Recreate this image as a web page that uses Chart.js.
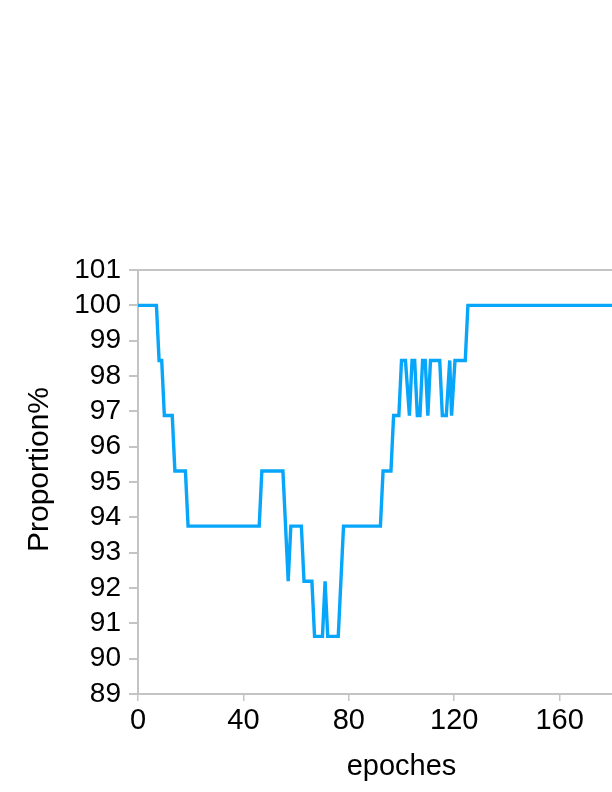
<!DOCTYPE html>
<html>
<head>
<meta charset="utf-8">
<script src="https://cdn.jsdelivr.net/npm/chart.js@4"></script>
<style>
  html, body { margin: 0; padding: 0; background: #fff; overflow: hidden; }
  #wrap { width: 612px; height: 792px; overflow: hidden; }
</style>
</head>
<body>
<div id="wrap"><canvas id="myChart" width="705" height="792"></canvas></div>
<script>
// vertices of the step curve
const epochs = [0, 7, 8, 9, 10, 13, 14, 18, 19, 46, 47, 55, 57, 58, 62, 63, 66, 67, 70, 71, 72, 76, 78, 92, 93, 96, 97, 99, 100, 101.5, 103, 104, 105, 106, 107, 108, 109, 110, 111, 114.5, 115.5, 117, 118.3, 119, 120.3, 124.2, 125.2, 200];
const proportion = [100, 100, 98.44, 98.44, 96.88, 96.88, 95.31, 95.31, 93.75, 93.75, 95.31, 95.31, 92.19, 93.75, 93.75, 92.19, 92.19, 90.63, 90.63, 92.19, 90.63, 90.63, 93.75, 93.75, 95.31, 95.31, 96.88, 96.88, 98.44, 98.44, 96.88, 98.44, 98.44, 96.88, 96.88, 98.44, 98.44, 96.88, 98.44, 98.44, 96.88, 96.88, 98.44, 96.88, 98.44, 98.44, 100, 100];

const xMin = 0, xMax = 200, xMajor = 40, xMinor = 20;
const yMin = 89, yMax = 101, yMajor = 1, yMinor = 0.5;

const axisGray = "#c4c4c4";
const fontFamily = "Liberation Sans, Arial, sans-serif";

const points = epochs.map((e, i) => ({ x: e, y: proportion[i] }));

const ctx = document.getElementById("myChart").getContext("2d");

const chart = new Chart(ctx, {
  type: "line",
  data: {
    datasets: [{
      label: "Proportion",
      data: points,
      borderColor: "#08a6fb",
      borderWidth: 3.4,
      pointRadius: 0,
      tension: 0,
      fill: false
    }]
  },
  options: {
    responsive: false,
    animation: false,
    devicePixelRatio: 1,
    layout: { padding: { top: 270, right: 40, bottom: 0, left: 0 } },
    plugins: { legend: { display: false }, tooltip: { enabled: false } },
    scales: {
      x: {
        type: "linear",
        position: "bottom",
        min: xMin,
        max: xMax,
        ticks: { stepSize: xMajor, autoSkip: false, color: "#000", font: { family: fontFamily, size: 29 }, padding: 3, maxRotation: 0 },
        grid: { drawOnChartArea: false, color: axisGray, tickColor: axisGray, tickLength: 7, lineWidth: 1.5 },
        border: { color: axisGray, width: 2 },
        title: {
          display: true,
          text: "epoches",
          color: "#000",
          font: { family: fontFamily, size: 29 },
          padding: { top: 0, bottom: 8 }
        },
        afterFit: s => { s.height = 98; }
      },
      xMinorAxis: {
        type: "linear",
        position: "bottom",
        min: xMin,
        max: xMax,
        ticks: { display: false, stepSize: xMinor },
        grid: { drawOnChartArea: false, color: axisGray, tickColor: axisGray, tickLength: 5, lineWidth: 1.5 },
        border: { display: false },
        afterFit: s => { s.height = 0; }
      },
      y: {
        type: "linear",
        position: "left",
        min: yMin,
        max: yMax,
        ticks: { stepSize: yMajor, autoSkip: false, color: "#000", font: { family: fontFamily, size: 28 }, padding: 8 },
        grid: {
          color: c => (c.tick && c.tick.value === yMax ? axisGray : "rgba(0,0,0,0)"),
          tickColor: axisGray,
          tickLength: 9,
          lineWidth: 2
        },
        border: { color: axisGray, width: 2 },
        title: {
          display: true,
          text: "   Proportion%",
          color: "#000",
          font: { family: fontFamily, size: 30 },
          padding: { top: 22, bottom: 0 }
        },
        afterFit: s => { s.width = 138; }
      },
      yMinorAxis: {
        type: "linear",
        position: "left",
        min: yMin,
        max: yMax,
        ticks: { display: false, stepSize: yMinor, autoSkip: false },
        grid: { drawOnChartArea: false, color: axisGray, tickColor: axisGray, tickLength: 6, lineWidth: 1.5 },
        border: { display: false },
        afterFit: s => { s.width = 0; }
      }
    }
  }
});
</script>
</body>
</html>
